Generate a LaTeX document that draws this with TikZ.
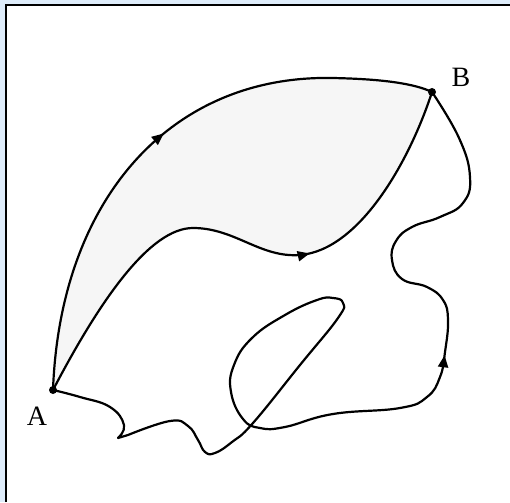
\documentclass[tikz,border=0pt]{standalone}
\usepackage{fontspec}
\setmainfont{Liberation Serif}
\usetikzlibrary{decorations.markings,arrows.meta}
\definecolor{bandblue}{RGB}{222,236,250}
\definecolor{regionfill}{RGB}{246,246,246}
\begin{document}
\begin{tikzpicture}[x=1pt,y=-1pt,
  curve/.style={line width=2.2pt, line join=round, line cap=round},
  arrowat/.style={postaction={decorate},
    decoration={markings, mark=at position #1 with {\arrow{Triangle[length=12pt,width=10pt]}}}},
  dot/.style={circle, fill=black, inner sep=0pt, minimum size=8pt},
  lbl/.style={font=\fontsize{28}{28}\selectfont, inner sep=0pt}]
\useasboundingbox (0,0) rectangle (510,502);
% frame
\fill[bandblue] (0,0) rectangle (510,502);
\fill[white] (6,5) rectangle (510,502);
\draw[line width=2pt] (6,502) -- (6,5) -- (510,5);
% end points
\coordinate (pA) at (53,390);
\coordinate (pB) at (432,92);
% shaded region between the two upper paths
\fill[regionfill] (pA) .. controls (60,200) and (170,75) .. (332,78) .. controls (385,79) and (415,84) .. (pB)
  .. controls (410,160) and (360,250) .. (300,255) .. controls (260,258) and (235,228) .. (193,228)
  .. controls (150,228) and (100,300) .. (pA) -- cycle;
% upper path
\draw[curve, arrowat=0.505] (pA) .. controls (60,200) and (170,75) .. (332,78) .. controls (385,79) and (415,84) .. (pB);
% middle path
\draw[curve, arrowat=0.62] (pA) .. controls (100,300) and (150,228) .. (193,228) .. controls (235,228) and (260,258) .. (300,255) .. controls (360,250) and (410,160) .. (pB);
% lower wiggly path
\draw[curve, arrowat=0.71] plot[smooth, tension=0.75] coordinates {(pA) (80,397) (110,407) (124,425) (118,438)}
  -- plot[smooth, tension=0.75] coordinates {(128,435) (170,421) (188,426) (198,440) (205,452) (215,453) (232,442) (253,423) (300,365) (338,318) (343,303) (333,298) (317,300) (285,315) (252,338) (234,365) (231,392) (243,419) (260,428) (285,427) (333,414) (400,408) (427,397) (440,377) (445,352) (448,320) (443,300) (427,287) (402,279) (392,260) (396,241) (412,227) (440,217) (463,203) (470,177) (459,138) (pB)};
% nodes
\node[dot] (A) at (pA) {};
\node[dot] (B) at (pB) {};
\node[lbl] (labA) at (37,416) {A};
\node[lbl] (labB) at (461,77) {B};
\end{tikzpicture}
\end{document}
